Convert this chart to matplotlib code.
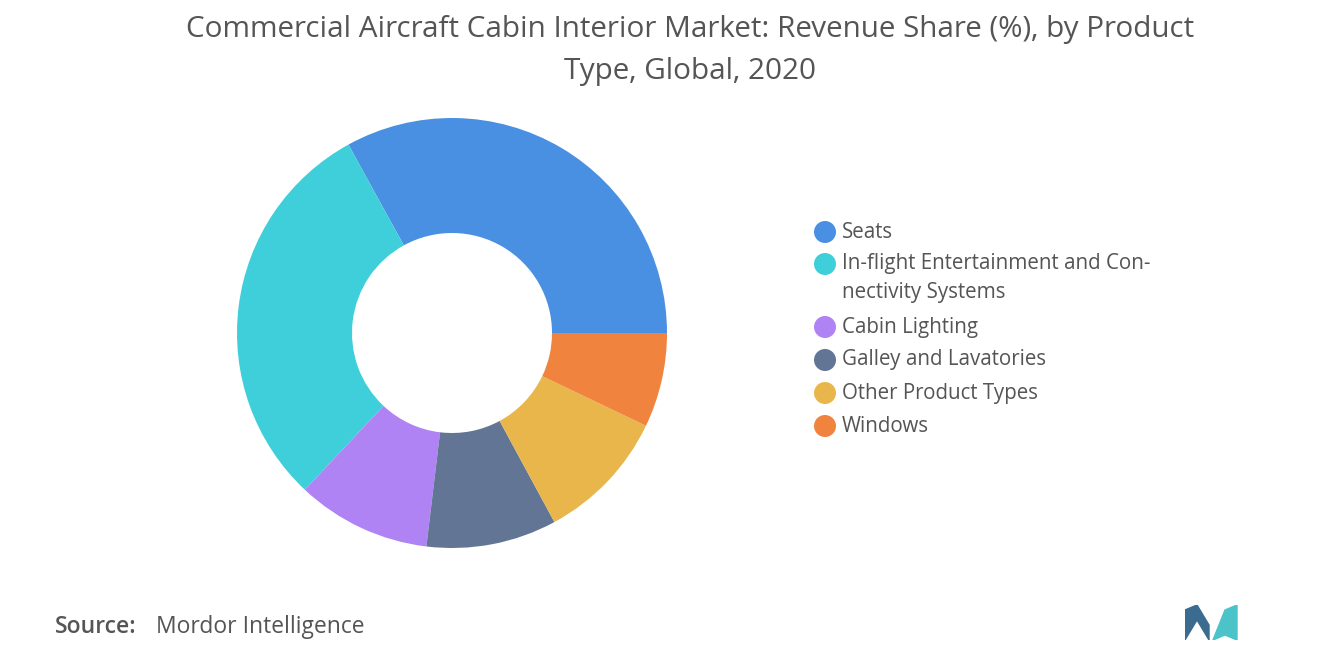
import matplotlib
matplotlib.use("Agg")
import matplotlib.pyplot as plt
from matplotlib.patches import Ellipse

labels = ["Seats", "In-flight Entertainment and Con-\nnectivity Systems", "Cabin Lighting",
          "Galley and Lavatories", "Other Product Types", "Windows"]
values = [33, 30, 10.1, 9.8, 10, 7.1]
colors = ["#4a90e2", "#3ecfda", "#b083f5", "#627595", "#e8b64b", "#f0843f"]

plt.rcParams["font.family"] = "Open Sans"
fig = plt.figure(figsize=(13.2, 6.65), dpi=100)
ax = fig.add_axes([452/1320 - 215/1320, 1 - (333+215)/665, 430/1320, 430/665])
ax.pie(values, colors=colors, startangle=0, counterclock=True,
       wedgeprops=dict(width=115/215, linewidth=0))
ax.set_aspect("equal")
ax.set_xlim(-1, 1); ax.set_ylim(-1, 1)

fig.text(0.523, 1 - 30/665, "Commercial Aircraft Cabin Interior Market: Revenue Share (%), by Product",
         ha="center", va="center", fontsize=21.3, color="#555555")
fig.text(0.523, 1 - 71/665, "Type, Global, 2020", ha="center", va="center", fontsize=21.3, color="#555555")

ys = [232, 278, 327, 360, 393, 426]
for lab, c, y in zip(labels, colors, ys):
    first = 264 if "\n" in lab else y
    fig.add_artist(Ellipse((825/1320, 1 - first/665), 22/1320, 22/665, transform=fig.transFigure,
                           facecolor=c, edgecolor="none"))
    if "\n" in lab:
        fig.text(842/1320, 1 - 264/665, lab.split("\n")[0], va="center", fontsize=14.8, color="#555555")
        fig.text(842/1320, 1 - 292/665, lab.split("\n")[1], va="center", fontsize=14.8, color="#555555")
    else:
        fig.text(842/1320, 1 - y/665, lab, va="center", fontsize=14.8, color="#555555")

fig.text(55/1320, 1 - 627/665, "Source:", va="center", fontsize=16.5, color="#555555", fontweight="semibold")
fig.text(156/1320, 1 - 627/665, "Mordor Intelligence", va="center", fontsize=16.5, color="#555555")

# logo
lx = fig.add_axes([1185/1320, 1 - 640/665, 65/1320, 35/665]); lx.axis("off")
lx.set_xlim(0, 65); lx.set_ylim(0, 35)
lx.fill([0, 0, 12, 24, 24, 12], [0, 30, 35, 15, 0, 20], color="#3b6b8f")
lx.fill([28, 40, 52, 52, 40, 28], [0, 30, 35, 0, 5, 0], color="#4cc3c8")
fig.savefig("out.png", dpi=100, facecolor="white")
